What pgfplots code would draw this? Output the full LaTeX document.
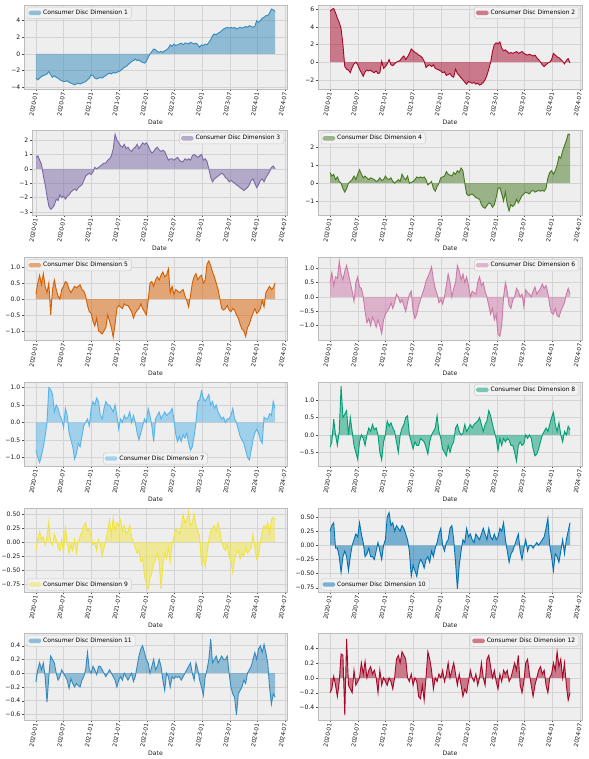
\documentclass[border=0pt]{standalone}
\usepackage{pgfplots}
\pgfplotsset{compat=1.18}
\usepackage{pgfplotstable}
\usepackage{fontspec}
\setmainfont{DejaVu Sans}
\definecolor{c1}{HTML}{348ABD}
\definecolor{c2}{HTML}{A60628}
\definecolor{c3}{HTML}{7A68A6}
\definecolor{c4}{HTML}{467821}
\definecolor{c5}{HTML}{D55E00}
\definecolor{c6}{HTML}{CC79A7}
\definecolor{c7}{HTML}{56B4E9}
\definecolor{c8}{HTML}{009E73}
\definecolor{c9}{HTML}{F0E442}
\definecolor{c10}{HTML}{0072B2}
\definecolor{bgc}{HTML}{EEEEEE}
\definecolor{edgec}{HTML}{BCBCBC}
\definecolor{gridc}{HTML}{D4D4D4}
\definecolor{legbg}{HTML}{F2F2F2}
\definecolor{legedge}{HTML}{CCCCCC}
\newcommand\fs{\fontsize{6.1bp}{7bp}\selectfont}
\newcommand\fx{\fontsize{5.8bp}{6.6bp}\selectfont}
\newcommand\fl{\fontsize{6bp}{6.9bp}\selectfont}

\pgfplotstableread[row sep=\\]{y\\
-2.9\\ -3.1\\ -2.9\\ -2.7\\ -2.6\\ -2.5\\ -2.4\\ -2.1\\ -2.5\\ -2.8\\
-2.6\\ -2.8\\ -2.9\\ -3.1\\ -3.2\\ -3.3\\ -3.3\\ -3.2\\ -3.4\\ -3.5\\
-3.6\\ -3.7\\ -3.6\\ -3.5\\ -3.6\\ -3.5\\ -3.4\\ -3.3\\ -3.1\\ -2.9\\
-2.5\\ -2.6\\ -2.9\\ -3.0\\ -2.9\\ -2.8\\ -2.9\\ -2.7\\ -2.6\\ -2.4\\
-2.3\\ -2.4\\ -2.2\\ -2.3\\ -2.2\\ -2.1\\ -2.0\\ -1.8\\ -1.6\\ -1.5\\
-1.3\\ -1.1\\ -0.9\\ -0.8\\ -0.6\\ -0.8\\ -0.7\\ -0.9\\ -1.0\\ -1.1\\
-0.9\\ -0.4\\ 0.0\\ 0.3\\ 0.6\\ 0.5\\ 0.3\\ 0.2\\ 0.3\\ 0.2\\
0.4\\ 0.5\\ 0.7\\ 1.1\\ 0.9\\ 1.2\\ 1.0\\ 1.1\\ 1.2\\ 1.3\\
1.1\\ 1.3\\ 1.3\\ 1.2\\ 1.4\\ 1.3\\ 1.2\\ 1.3\\ 1.1\\ 0.8\\
1.1\\ 1.0\\ 1.2\\ 1.1\\ 1.4\\ 1.7\\ 2.2\\ 2.4\\ 2.3\\ 2.5\\
2.6\\ 2.8\\ 3.0\\ 3.1\\ 3.2\\ 3.1\\ 3.2\\ 3.1\\ 3.2\\ 3.0\\
3.1\\ 3.2\\ 3.1\\ 3.2\\ 3.3\\ 3.2\\ 3.4\\ 3.3\\ 3.2\\ 3.3\\
4.0\\ 3.8\\ 4.0\\ 4.3\\ 4.4\\ 4.6\\ 4.6\\ 4.9\\ 5.4\\ 5.3\\
5.1\\
}\dA
\pgfplotstableread[row sep=\\]{y\\
5.8\\ 6.0\\ 6.1\\ 5.6\\ 5.0\\ 4.5\\ 3.8\\ 2.0\\ -0.5\\ -0.8\\
-0.9\\ -1.2\\ -0.6\\ -0.2\\ 0.0\\ -0.3\\ -0.8\\ -1.2\\ -1.6\\ -1.1\\
-0.9\\ -1.0\\ -0.9\\ -1.1\\ -1.2\\ -1.0\\ -1.3\\ -1.2\\ 0.1\\ -0.7\\
-0.5\\ -0.2\\ 0.3\\ -0.3\\ -0.4\\ -0.2\\ 0.0\\ 0.1\\ 0.2\\ 0.5\\
0.7\\ 0.3\\ 0.6\\ 1.0\\ 1.5\\ 1.3\\ 1.1\\ 1.0\\ 0.8\\ 0.7\\
0.5\\ 0.1\\ -0.6\\ -0.4\\ -0.3\\ -0.5\\ -0.3\\ -0.7\\ -0.8\\ -0.9\\
-1.0\\ -1.2\\ -1.1\\ -1.5\\ -1.4\\ -1.3\\ -1.6\\ -1.7\\ -0.8\\ -1.3\\
-1.5\\ -1.8\\ -2.0\\ -2.3\\ -2.5\\ -2.2\\ -2.3\\ -2.4\\ -2.3\\ -2.5\\
-2.4\\ -2.6\\ -2.5\\ -2.3\\ -2.0\\ -1.5\\ -0.8\\ 0.0\\ 1.2\\ 2.0\\
2.2\\ 2.1\\ 2.3\\ 1.6\\ 1.3\\ 1.4\\ 1.2\\ 1.0\\ 1.1\\ 1.0\\
1.1\\ 1.2\\ 1.0\\ 1.1\\ 1.2\\ 1.0\\ 0.9\\ 0.8\\ 0.9\\ 0.8\\
0.7\\ 0.8\\ 0.5\\ 0.3\\ 0.0\\ -0.3\\ -0.5\\ -0.3\\ -0.1\\ 0.0\\
0.3\\ 1.0\\ 0.8\\ 0.6\\ 0.5\\ 0.3\\ 0.1\\ -0.2\\ 0.2\\ 0.4\\
-0.1\\
}\dB
\pgfplotstableread[row sep=\\]{y\\
0.8\\ 0.9\\ 0.6\\ 0.3\\ -0.5\\ -1.1\\ -1.9\\ -2.6\\ -2.8\\ -2.7\\
-2.5\\ -2.1\\ -2.2\\ -1.8\\ -2.0\\ -1.9\\ -2.1\\ -1.9\\ -1.8\\ -1.6\\
-1.5\\ -1.4\\ -1.5\\ -1.3\\ -1.2\\ -1.1\\ -0.8\\ -0.5\\ -0.4\\ -0.3\\
-0.4\\ -0.2\\ 0.1\\ 0.0\\ 0.1\\ 0.2\\ 0.3\\ 0.4\\ 0.4\\ 0.6\\
0.7\\ 0.9\\ 1.4\\ 2.4\\ 2.0\\ 1.8\\ 1.6\\ 1.5\\ 1.7\\ 1.4\\
1.5\\ 1.3\\ 1.2\\ 1.4\\ 1.5\\ 1.7\\ 1.4\\ 1.6\\ 1.8\\ 1.7\\
1.8\\ 1.6\\ 1.3\\ 1.1\\ 1.2\\ 1.4\\ 1.5\\ 1.3\\ 1.2\\ 1.3\\
1.2\\ 0.9\\ 0.6\\ 0.7\\ 0.7\\ 0.6\\ 0.7\\ 0.8\\ 0.6\\ 0.5\\
0.5\\ 0.7\\ 0.6\\ 0.7\\ 0.6\\ 0.9\\ 1.0\\ 0.9\\ 0.8\\ 0.9\\
1.0\\ 0.6\\ 0.7\\ 0.5\\ 0.0\\ -0.6\\ -0.9\\ -0.7\\ -0.6\\ -0.5\\
-0.4\\ -0.3\\ -0.4\\ -0.6\\ -0.7\\ -0.9\\ -0.8\\ -0.9\\ -1.0\\ -1.1\\
-1.2\\ -1.3\\ -1.4\\ -1.5\\ -1.4\\ -1.3\\ -1.1\\ -0.8\\ -0.7\\ -1.0\\
-1.3\\ -1.1\\ -0.8\\ -0.7\\ -0.9\\ -0.6\\ -0.4\\ -0.2\\ 0.1\\ 0.2\\
0.0\\
}\dC
\pgfplotstableread[row sep=\\]{y\\
0.6\\ 0.4\\ 0.5\\ 0.2\\ 0.35\\ 0.1\\ 0.0\\ -0.3\\ -0.5\\ -0.3\\
0.0\\ 0.1\\ 0.2\\ 0.4\\ 0.2\\ 0.5\\ 0.75\\ 0.5\\ 0.3\\ 0.4\\
0.3\\ 0.2\\ 0.3\\ 0.25\\ 0.2\\ 0.1\\ 0.15\\ 0.3\\ 0.15\\ 0.2\\
0.4\\ 0.25\\ 0.2\\ 0.3\\ 0.1\\ 0.0\\ 0.1\\ 0.2\\ 0.1\\ 0.5\\
0.3\\ 0.2\\ 0.4\\ 0.0\\ 0.05\\ 0.1\\ 0.2\\ 0.35\\ 0.3\\ 0.35\\
0.3\\ 0.35\\ 0.2\\ -0.1\\ 0.0\\ 0.1\\ -0.3\\ -0.45\\ -0.2\\ 0.0\\
0.3\\ 0.35\\ 0.4\\ 0.65\\ 0.5\\ 0.45\\ 0.4\\ 0.6\\ 0.5\\ 0.7\\
0.6\\ 0.85\\ 0.7\\ 0.0\\ -0.6\\ -0.7\\ -0.65\\ -0.6\\ -0.7\\ -0.8\\
-0.85\\ -0.9\\ -1.2\\ -1.35\\ -1.4\\ -1.25\\ -1.1\\ -1.15\\ -1.35\\ -1.2\\
-0.8\\ -0.3\\ -0.25\\ -0.6\\ -1.0\\ -0.5\\ -1.2\\ -1.55\\ -1.2\\ -1.3\\
-1.2\\ -0.9\\ -1.1\\ -0.9\\ -0.7\\ -0.6\\ -0.5\\ -0.55\\ -0.6\\ -0.45\\
-0.4\\ -0.5\\ -0.45\\ -0.4\\ -0.45\\ -0.4\\ -0.45\\ -0.3\\ 0.3\\ 0.6\\
0.7\\ 0.5\\ 0.7\\ 1.0\\ 1.5\\ 1.4\\ 1.8\\ 2.1\\ 2.4\\ 2.75\\
2.7\\
}\dD
\pgfplotstableread[row sep=\\]{y\\
0.15\\ 0.5\\ 0.75\\ 0.45\\ 0.8\\ 0.4\\ 0.2\\ 0.5\\ -0.5\\ 0.3\\
0.6\\ 0.3\\ 0.1\\ 0.0\\ 0.3\\ 0.4\\ 0.55\\ 0.5\\ 0.3\\ 0.2\\
0.3\\ 0.4\\ 0.35\\ 0.4\\ 0.45\\ 0.3\\ 0.25\\ 0.1\\ -0.2\\ -0.4\\
-0.45\\ -0.7\\ -0.85\\ -0.6\\ -1.0\\ -1.05\\ -1.1\\ -1.0\\ -0.9\\ -0.5\\
-0.7\\ -0.9\\ -1.2\\ -0.8\\ -0.3\\ -0.2\\ -0.25\\ -0.3\\ -0.15\\ -0.2\\
-0.2\\ -0.3\\ -0.4\\ -0.6\\ -0.45\\ -0.35\\ -0.3\\ -0.15\\ -0.3\\ -0.4\\
-0.5\\ -0.05\\ 0.5\\ 0.55\\ 0.4\\ 0.6\\ 0.7\\ 0.6\\ 0.75\\ 0.85\\
0.7\\ 0.75\\ 0.95\\ 0.2\\ 0.4\\ 0.15\\ 0.3\\ 0.25\\ 0.2\\ 0.25\\
0.3\\ 0.1\\ -0.05\\ -0.25\\ 0.1\\ 0.5\\ 0.7\\ 0.8\\ 0.6\\ 0.7\\
0.75\\ 0.5\\ 0.6\\ 1.1\\ 1.2\\ 1.05\\ 0.85\\ 0.7\\ 0.5\\ 0.3\\
0.0\\ -0.3\\ -0.35\\ -0.3\\ -0.2\\ -0.35\\ -0.4\\ -0.3\\ -0.35\\ -0.5\\
-0.6\\ -0.8\\ -0.95\\ -1.0\\ -1.18\\ -0.9\\ -0.8\\ -0.6\\ -0.45\\ -0.3\\
-0.45\\ -0.4\\ -0.3\\ -0.05\\ -0.25\\ 0.2\\ 0.3\\ 0.4\\ 0.3\\ 0.35\\
0.5\\
}\dE
\pgfplotstableread[row sep=\\]{y\\
0.5\\ 0.85\\ 0.4\\ 0.7\\ 0.65\\ 1.25\\ 0.8\\ 0.6\\ 0.9\\ 1.1\\
0.8\\ 0.5\\ 0.2\\ -0.15\\ 0.5\\ 0.7\\ 0.35\\ 0.3\\ 0.0\\ -0.5\\
-0.9\\ -0.75\\ -1.0\\ -0.7\\ -0.85\\ -1.05\\ -0.8\\ -1.0\\ -1.28\\ -0.8\\
-0.6\\ -0.5\\ -0.4\\ -0.2\\ -0.4\\ -0.2\\ 0.1\\ 0.0\\ -0.2\\ -0.1\\
-0.3\\ -0.5\\ -0.2\\ 0.1\\ 0.2\\ -0.5\\ -0.75\\ -0.6\\ -0.3\\ -0.1\\
0.1\\ 0.3\\ 0.55\\ 0.7\\ 0.85\\ 1.05\\ 0.6\\ 0.3\\ 0.1\\ -0.2\\
-0.1\\ -0.25\\ 0.0\\ 0.4\\ 0.8\\ 0.5\\ 0.0\\ 0.3\\ 0.5\\ 1.1\\
0.9\\ 0.6\\ 0.8\\ 0.5\\ 0.7\\ 0.4\\ 0.0\\ 0.2\\ 0.15\\ 0.1\\
0.5\\ 0.7\\ 0.4\\ 0.5\\ 0.2\\ 0.0\\ -0.3\\ -0.6\\ -0.4\\ -0.8\\
-0.6\\ -1.3\\ -1.37\\ -1.0\\ 0.0\\ 0.5\\ 0.2\\ -0.3\\ -0.4\\ -0.1\\
0.0\\ 0.3\\ 0.2\\ 0.0\\ 0.1\\ -0.35\\ 0.25\\ 0.15\\ 0.1\\ 0.0\\
0.2\\ 0.35\\ 0.1\\ 0.2\\ 0.3\\ 0.45\\ 0.3\\ 0.4\\ 0.15\\ -0.3\\
-0.55\\ -0.6\\ -0.4\\ -0.65\\ -0.7\\ -0.5\\ -0.35\\ -0.2\\ 0.1\\ 0.3\\
0.1\\
}\dF
\pgfplotstableread[row sep=\\]{y\\
-0.8\\ -1.0\\ -1.15\\ -0.95\\ -0.7\\ -0.4\\ 0.0\\ 1.0\\ 0.95\\ 0.8\\
0.3\\ 0.5\\ 0.4\\ 0.2\\ 0.1\\ -0.15\\ 0.4\\ 0.2\\ -0.3\\ -0.5\\
-0.7\\ -1.05\\ -0.9\\ -0.6\\ -0.7\\ -0.4\\ -0.1\\ 0.0\\ 0.1\\ -0.1\\
0.4\\ 0.6\\ 0.5\\ 0.7\\ 0.6\\ 0.2\\ 0.1\\ 0.4\\ 0.6\\ 0.5\\
0.5\\ 0.4\\ 0.3\\ 0.5\\ 0.2\\ -0.2\\ 0.1\\ 0.0\\ 0.2\\ 0.1\\
0.15\\ 0.3\\ 0.0\\ 0.2\\ 0.0\\ -0.3\\ -0.5\\ -0.3\\ -0.1\\ 0.1\\
0.0\\ 0.4\\ 0.2\\ -0.1\\ -0.55\\ 0.1\\ 0.2\\ 0.3\\ 0.1\\ 0.2\\
0.3\\ 0.2\\ 0.25\\ 0.3\\ 0.4\\ 0.1\\ -0.35\\ -0.55\\ -0.4\\ -0.55\\
-0.35\\ -0.45\\ -0.3\\ -0.6\\ -0.8\\ -0.7\\ -0.4\\ 0.0\\ 0.6\\ 0.65\\
0.9\\ 0.7\\ 0.6\\ 0.7\\ 0.8\\ 0.5\\ 0.6\\ 0.4\\ 0.5\\ 0.3\\
0.2\\ 0.1\\ 0.15\\ 0.0\\ 0.1\\ 0.1\\ 0.2\\ 0.4\\ 0.1\\ 0.0\\
-0.2\\ -0.4\\ -0.5\\ -0.6\\ -0.8\\ -1.0\\ -1.08\\ -0.8\\ -0.5\\ -0.3\\
-0.2\\ -0.3\\ -0.5\\ -0.6\\ 0.15\\ 0.1\\ 0.1\\ 0.25\\ 0.2\\ 0.6\\
0.4\\
}\dG
\pgfplotstableread[row sep=\\]{y\\
-0.35\\ -0.2\\ 0.45\\ 0.0\\ -0.3\\ 0.1\\ 1.4\\ 0.5\\ 0.6\\ 0.7\\
0.0\\ 0.5\\ 0.1\\ -0.3\\ -0.5\\ -0.7\\ -0.2\\ 0.0\\ -0.1\\ -0.3\\
0.0\\ 0.2\\ 0.1\\ 0.3\\ 0.15\\ 0.2\\ 0.0\\ -0.5\\ -0.72\\ -0.2\\
0.0\\ 0.4\\ 0.25\\ 0.35\\ 0.2\\ 0.1\\ -0.2\\ -0.5\\ 0.0\\ 0.2\\
0.3\\ 0.5\\ 0.55\\ 0.0\\ -0.2\\ -0.4\\ -0.2\\ -0.3\\ -0.3\\ -0.1\\
-0.15\\ -0.2\\ -0.35\\ -0.55\\ -0.2\\ 0.0\\ 0.1\\ 0.2\\ 0.55\\ 0.1\\
-0.1\\ -0.4\\ -0.5\\ -0.6\\ -0.3\\ -0.5\\ -0.3\\ -0.2\\ 0.2\\ 0.3\\
0.1\\ 0.0\\ 0.05\\ 0.3\\ 0.1\\ 0.2\\ 0.3\\ 0.2\\ 0.3\\ 0.35\\
0.4\\ 0.5\\ 0.3\\ 0.1\\ 0.3\\ 0.4\\ 0.7\\ 0.55\\ 0.3\\ 0.1\\
-0.1\\ -0.45\\ -0.1\\ -0.3\\ -0.1\\ -0.2\\ -0.1\\ -0.15\\ -0.3\\ -0.3\\
-0.5\\ -0.75\\ -0.3\\ -0.2\\ -0.3\\ -0.25\\ 0.0\\ -0.1\\ 0.0\\ -0.1\\
-0.4\\ -0.6\\ -0.55\\ -0.4\\ -0.2\\ 0.0\\ 0.1\\ 0.2\\ 0.1\\ 0.3\\
0.5\\ 0.65\\ 0.3\\ 0.1\\ 0.35\\ 0.0\\ -0.2\\ 0.1\\ 0.0\\ 0.25\\
0.15\\
}\dH
\pgfplotstableread[row sep=\\]{y\\
-0.15\\ 0.05\\ 0.2\\ 0.05\\ 0.1\\ -0.05\\ 0.1\\ 0.37\\ 0.0\\ -0.05\\
0.15\\ 0.05\\ -0.1\\ -0.15\\ 0.05\\ -0.2\\ 0.3\\ 0.0\\ -0.2\\ -0.05\\
-0.15\\ 0.05\\ -0.2\\ 0.0\\ 0.1\\ 0.2\\ 0.3\\ 0.35\\ 0.2\\ 0.25\\
0.1\\ -0.05\\ 0.0\\ -0.15\\ 0.05\\ -0.05\\ -0.25\\ -0.1\\ 0.05\\ 0.2\\
0.4\\ 0.1\\ 0.45\\ 0.2\\ 0.35\\ 0.3\\ 0.4\\ 0.2\\ 0.3\\ 0.15\\
0.2\\ 0.3\\ 0.1\\ 0.0\\ -0.1\\ -0.2\\ -0.15\\ -0.35\\ -0.3\\ -0.6\\
-0.75\\ -0.84\\ -0.65\\ -0.55\\ -0.4\\ -0.3\\ -0.2\\ -0.35\\ -0.84\\ -0.4\\
-0.2\\ -0.3\\ -0.1\\ -0.35\\ -0.05\\ 0.1\\ 0.25\\ 0.2\\ 0.15\\ 0.3\\
0.5\\ 0.35\\ 0.4\\ 0.55\\ 0.3\\ 0.35\\ 0.5\\ 0.3\\ 0.2\\ 0.1\\
-0.4\\ -0.3\\ -0.45\\ -0.2\\ 0.05\\ 0.2\\ 0.25\\ 0.3\\ 0.2\\ 0.35\\
0.2\\ 0.0\\ -0.1\\ -0.15\\ -0.05\\ -0.25\\ -0.35\\ -0.55\\ -0.3\\ -0.2\\
-0.15\\ -0.3\\ -0.2\\ -0.25\\ -0.1\\ -0.2\\ -0.15\\ -0.1\\ 0.15\\ -0.1\\
-0.3\\ -0.25\\ 0.0\\ 0.2\\ 0.3\\ 0.25\\ 0.35\\ 0.15\\ 0.4\\ 0.45\\
0.4\\
}\dI
\pgfplotstableread[row sep=\\]{y\\
0.25\\ 0.35\\ 0.4\\ -0.05\\ -0.05\\ -0.2\\ -0.48\\ -0.2\\ -0.1\\ -0.2\\
-0.45\\ -0.2\\ 0.0\\ 0.1\\ 0.2\\ 0.15\\ 0.4\\ 0.2\\ 0.05\\ -0.2\\
-0.15\\ -0.05\\ -0.2\\ -0.2\\ -0.25\\ -0.1\\ 0.05\\ -0.1\\ -0.25\\ 0.0\\
0.1\\ 0.5\\ 0.58\\ 0.35\\ 0.4\\ 0.25\\ 0.35\\ 0.3\\ 0.25\\ 0.35\\
0.3\\ 0.2\\ 0.1\\ -0.1\\ -0.55\\ -0.35\\ -0.45\\ -0.55\\ -0.35\\ -0.25\\
-0.3\\ -0.4\\ -0.25\\ -0.2\\ -0.3\\ -0.1\\ -0.2\\ -0.05\\ 0.05\\ 0.2\\
0.3\\ 0.0\\ -0.1\\ 0.05\\ 0.1\\ 0.3\\ 0.35\\ 0.1\\ -0.3\\ -0.77\\
-0.35\\ -0.1\\ 0.1\\ 0.05\\ 0.3\\ 0.15\\ 0.2\\ 0.1\\ 0.05\\ 0.2\\
0.15\\ 0.1\\ 0.2\\ 0.3\\ 0.2\\ 0.1\\ 0.3\\ 0.15\\ 0.1\\ 0.2\\
0.1\\ 0.15\\ 0.3\\ 0.25\\ 0.4\\ 0.1\\ -0.1\\ -0.3\\ -0.15\\ -0.1\\
0.0\\ 0.1\\ 0.2\\ -0.1\\ -0.25\\ -0.05\\ 0.1\\ -0.1\\ 0.0\\ 0.0\\
-0.05\\ 0.0\\ 0.05\\ 0.0\\ 0.05\\ 0.1\\ 0.15\\ 0.3\\ 0.48\\ 0.0\\
-0.2\\ -0.45\\ -0.15\\ -0.2\\ -0.3\\ -0.1\\ 0.1\\ -0.15\\ 0.1\\ 0.25\\
0.4\\
}\dJ
\pgfplotstableread[row sep=\\]{y\\
-0.13\\ 0.05\\ 0.15\\ 0.05\\ 0.15\\ -0.05\\ -0.42\\ -0.05\\ 0.25\\ 0.2\\
0.15\\ 0.0\\ -0.1\\ -0.05\\ 0.05\\ 0.0\\ -0.05\\ -0.1\\ -0.22\\ -0.08\\
-0.15\\ -0.2\\ -0.15\\ -0.18\\ -0.2\\ -0.1\\ -0.05\\ 0.05\\ 0.3\\ 0.05\\
0.0\\ 0.1\\ 0.05\\ -0.02\\ 0.1\\ 0.1\\ 0.05\\ 0.0\\ -0.05\\ 0.0\\
0.05\\ 0.0\\ -0.05\\ -0.1\\ -0.2\\ -0.1\\ -0.05\\ -0.1\\ 0.0\\ -0.05\\
-0.1\\ -0.05\\ 0.0\\ -0.12\\ -0.05\\ 0.1\\ 0.25\\ 0.35\\ 0.4\\ 0.3\\
0.2\\ 0.15\\ 0.0\\ 0.1\\ 0.2\\ 0.05\\ 0.1\\ 0.2\\ 0.1\\ -0.1\\
-0.25\\ 0.0\\ -0.05\\ -0.2\\ -0.05\\ -0.08\\ -0.05\\ -0.06\\ -0.05\\ -0.1\\
-0.05\\ 0.0\\ 0.05\\ 0.1\\ 0.15\\ 0.0\\ -0.1\\ 0.15\\ 0.05\\ -0.1\\
-0.2\\ -0.32\\ -0.05\\ 0.05\\ 0.2\\ 0.5\\ 0.15\\ 0.2\\ 0.25\\ 0.15\\
0.2\\ 0.25\\ 0.2\\ 0.2\\ 0.25\\ 0.0\\ -0.2\\ -0.3\\ -0.35\\ -0.61\\
-0.3\\ -0.25\\ -0.2\\ -0.1\\ -0.15\\ 0.0\\ 0.05\\ 0.1\\ 0.2\\ 0.3\\
0.2\\ 0.35\\ 0.4\\ 0.3\\ 0.42\\ 0.3\\ 0.15\\ -0.2\\ -0.45\\ -0.3\\
-0.35\\
}\dK
\pgfplotstableread[row sep=\\]{y\\
-0.2\\ -0.15\\ 0.02\\ -0.1\\ -0.25\\ -0.05\\ 0.32\\ 0.3\\ -0.5\\ 0.52\\
-0.1\\ -0.15\\ -0.2\\ 0.1\\ -0.1\\ -0.05\\ 0.0\\ 0.2\\ 0.05\\ 0.22\\
0.0\\ 0.1\\ 0.15\\ 0.05\\ 0.1\\ 0.0\\ -0.2\\ 0.1\\ -0.1\\ 0.0\\
-0.05\\ -0.1\\ 0.0\\ -0.05\\ -0.15\\ 0.0\\ 0.25\\ 0.3\\ 0.2\\ 0.35\\
0.3\\ 0.25\\ 0.0\\ -0.05\\ 0.05\\ -0.1\\ 0.0\\ -0.05\\ -0.25\\ -0.28\\
-0.1\\ -0.3\\ 0.0\\ 0.35\\ 0.25\\ 0.1\\ -0.15\\ 0.0\\ -0.05\\ 0.05\\
0.0\\ 0.1\\ -0.05\\ 0.05\\ 0.2\\ 0.0\\ 0.1\\ 0.2\\ 0.05\\ -0.1\\
0.05\\ -0.1\\ -0.25\\ -0.15\\ -0.2\\ -0.05\\ 0.1\\ 0.0\\ -0.05\\ 0.05\\
-0.1\\ 0.0\\ 0.2\\ 0.0\\ -0.1\\ 0.25\\ 0.3\\ 0.15\\ 0.0\\ 0.1\\
-0.05\\ -0.15\\ 0.05\\ -0.05\\ 0.1\\ 0.05\\ 0.1\\ -0.05\\ 0.0\\ 0.1\\
0.2\\ 0.1\\ 0.3\\ -0.1\\ -0.2\\ -0.05\\ 0.2\\ 0.25\\ 0.05\\ -0.1\\
-0.25\\ -0.1\\ 0.0\\ 0.1\\ 0.15\\ 0.05\\ 0.1\\ -0.1\\ -0.2\\ 0.0\\
0.05\\ 0.2\\ 0.1\\ 0.35\\ 0.15\\ 0.25\\ 0.0\\ 0.2\\ -0.1\\ -0.3\\
-0.2\\
}\dL

\pgfplotsset{
  panel/.style={
    scale only axis,
    xmin=-2.59, xmax=54.39,
    xtick={0,6,12,18,24,30,36,42,48,54},
    xticklabels={2020-01,2020-07,2021-01,2021-07,2022-01,2022-07,2023-01,2023-07,2024-01,2024-07},
    x tick label style={rotate=80, anchor=east, font=\fx, text=black!90, inner sep=1.2bp},
    y tick label style={font=\fs, text=black!90, inner sep=1.5bp},
    xlabel={Date}, xlabel style={font=\fs, text=black!90, yshift=1.5bp},
    axis background/.style={fill=bgc},
    xmajorgrids, ymajorgrids,
    major grid style={draw=gridc, line width=0.5bp},
    axis line style={draw=edgec, line width=0.6bp},
    tick pos=left, tick align=outside, major tick length=2bp,
    every tick/.style={black!70, line width=0.4bp},
    legend cell align=left,
    legend style={font=\fl, fill=legbg, draw=legedge, rounded corners=1.5bp,
      inner xsep=1.5bp, inner ysep=0.6bp, row sep=0pt},
    legend image code/.code={\fill[##1] (0bp,-2.2bp) rectangle (12.5bp,2.2bp);},
  },
  UL/.style={legend style={at={(0,1)}, anchor=north west, xshift=3bp, yshift=-2bp}},
  UR/.style={legend style={at={(1,1)}, anchor=north east, xshift=-3bp, yshift=-2bp}},
  LL/.style={legend style={at={(0,0)}, anchor=south west, xshift=3bp, yshift=2bp}},
  LC/.style={legend style={at={(0.5,0)}, anchor=south, yshift=2bp}},
  fillp/.style={draw=none, fill=#1, fill opacity=0.5},
  linep/.style={#1, line width=0.9bp, forget plot},
}
\newcommand\series[3]{%
  \addplot[fillp=#2] table[x expr=\coordindex*0.3985, y=y] {#1} \closedcycle;
  \addlegendentry{Consumer Disc Dimension #3}
  \addplot[linep=#2] table[x expr=\coordindex*0.3985, y=y] {#1};
}

\begin{document}
\begin{tikzpicture}
\useasboundingbox (0,0) rectangle (589bp,759bp);

% Row 1
\begin{axis}[panel, UL, at={(24bp,670bp)}, anchor=south west, width=263bp, height=84bp,
  ymin=-4.2, ymax=5.88, ytick={-4,-2,0,2,4}, yticklabels={−4,−2,0,2,4}]
\series{\dA}{c1}{1}
\end{axis}
\begin{axis}[panel, UR, at={(318bp,670bp)}, anchor=south west, width=264bp, height=84bp,
  ymin=-3.05, ymax=6.5, ytick={-2,0,2,4,6}, yticklabels={−2,0,2,4,6}]
\series{\dB}{c2}{2}
\end{axis}

% Row 2
\begin{axis}[panel, UR, at={(32bp,544bp)}, anchor=south west, width=255bp, height=84.5bp,
  xmin=-0.87,
  ymin=-3.2, ymax=2.66, ytick={-3,-2,-1,0,1,2}, yticklabels={−3,−2,−1,0,1,2}]
\series{\dC}{c3}{3}
\end{axis}
\begin{axis}[panel, UL, at={(318bp,544bp)}, anchor=south west, width=264bp, height=84.5bp,
  ymin=-1.78, ymax=2.95, ytick={-1,0,1,2}, yticklabels={−1,0,1,2}]
\series{\dD}{c4}{4}
\end{axis}

% Row 3
\begin{axis}[panel, UL, at={(24bp,419bp)}, anchor=south west, width=263bp, height=82.6bp,
  ymin=-1.29, ymax=1.31, ytick={-1,-0.5,0,0.5,1}, yticklabels={−1.0,−0.5,0.0,0.5,1.0}]
\series{\dE}{c5}{5}
\end{axis}
\begin{axis}[panel, UR, at={(318bp,419bp)}, anchor=south west, width=264bp, height=82.6bp,
  ymin=-1.50, ymax=1.38, ytick={-1,-0.5,0,0.5,1}, yticklabels={−1.0,−0.5,0.0,0.5,1.0}]
\series{\dF}{c6}{6}
\end{axis}

% Row 4
\begin{axis}[panel, LC, at={(24bp,292.7bp)}, anchor=south west, width=263bp, height=84.3bp,
  ymin=-1.26, ymax=1.16, ytick={-1,-0.5,0,0.5,1}, yticklabels={−1.0,−0.5,0.0,0.5,1.0}]
\series{\dG}{c7}{7}
\end{axis}
\begin{axis}[panel, UR, at={(318bp,292.7bp)}, anchor=south west, width=264bp, height=84.3bp,
  ymin=-0.9, ymax=1.52, ytick={-0.5,0,0.5,1}, yticklabels={−0.5,0.0,0.5,1.0}]
\series{\dH}{c8}{8}
\end{axis}

% Row 5
\begin{axis}[panel, LL, at={(24bp,166.7bp)}, anchor=south west, width=263bp, height=84bp,
  ymin=-0.9, ymax=0.61, ytick={-0.75,-0.5,-0.25,0,0.25,0.5}, yticklabels={−0.75,−0.50,−0.25,0.00,0.25,0.50}]
\series{\dI}{c9}{9}
\end{axis}
\begin{axis}[panel, LL, at={(318bp,166.7bp)}, anchor=south west, width=264bp, height=84bp,
  ymin=-0.83, ymax=0.655, ytick={-0.75,-0.5,-0.25,0,0.25,0.5}, yticklabels={−0.75,−0.50,−0.25,0.00,0.25,0.50}]
\series{\dJ}{c10}{10}
\end{axis}

% Row 6
\begin{axis}[panel, UL, at={(24bp,39bp)}, anchor=south west, width=263bp, height=87bp,
  ymin=-0.68, ymax=0.585, ytick={-0.6,-0.4,-0.2,0,0.2,0.4}, yticklabels={−0.6,−0.4,−0.2,0.0,0.2,0.4}]
\series{\dK}{c1}{11}
\end{axis}
\begin{axis}[panel, UR, at={(318bp,39bp)}, anchor=south west, width=264bp, height=87bp,
  ymin=-0.565, ymax=0.60, ytick={-0.4,-0.2,0,0.2,0.4}, yticklabels={−0.4,−0.2,0.0,0.2,0.4}]
\series{\dL}{c2}{12}
\end{axis}
\end{tikzpicture}
\end{document}
